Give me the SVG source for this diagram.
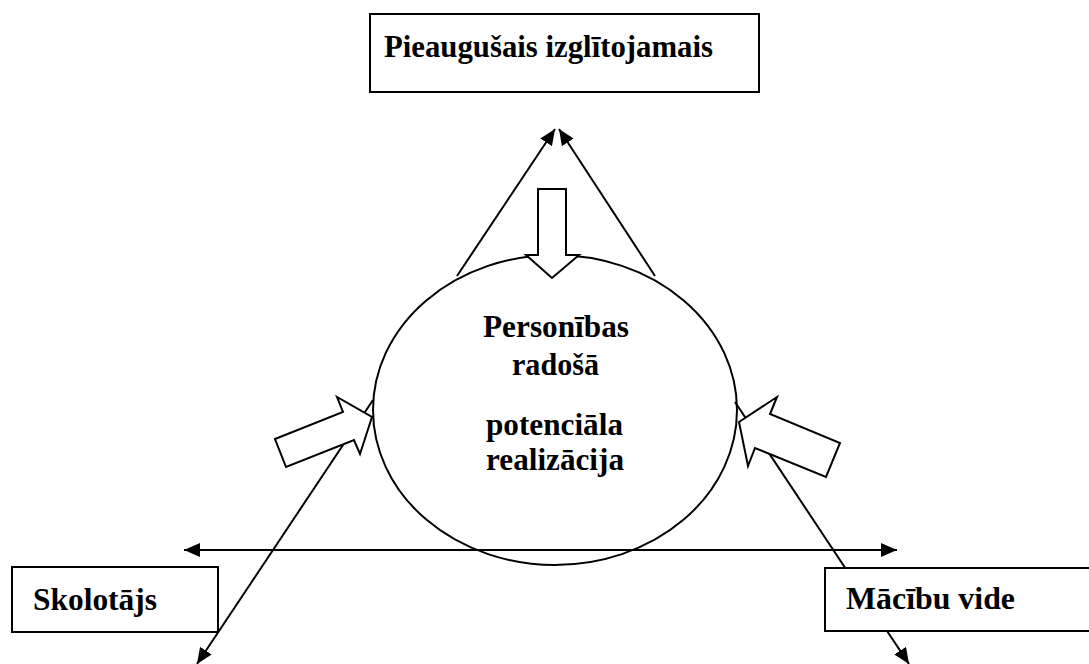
<svg xmlns="http://www.w3.org/2000/svg" width="1089" height="664" viewBox="0 0 1089 664">
<style>
.box{fill:#fff;stroke:#000;stroke-width:2}
.ell{fill:none;stroke:#000;stroke-width:2}
.lbl{font-family:"Times New Roman","Liberation Serif","DejaVu Serif",serif;font-weight:bold;font-size:31px;fill:#000}
.ln{stroke:#000;stroke-width:2;fill:none}
.blk{fill:#fff;stroke:#000;stroke-width:2;stroke-linejoin:miter}
</style>
<defs>
<marker id="ah" markerUnits="userSpaceOnUse" markerWidth="17" markerHeight="14" refX="16" refY="7" orient="auto">
<path d="M0,0 L16,7 L0,14 z" fill="#000"/>
</marker>
</defs>
<rect width="1089" height="664" fill="#fff"/>
<g id="connectors">
<line class="ln" x1="457" y1="276" x2="555" y2="129" marker-end="url(#ah)"/>
<line class="ln" x1="655" y1="276" x2="559" y2="129" marker-end="url(#ah)"/>
<line class="ln" x1="373" y1="400" x2="197" y2="664" marker-end="url(#ah)"/>
<line class="ln" x1="735" y1="402" x2="909" y2="664" marker-end="url(#ah)"/>
<line class="ln" x1="540" y1="550" x2="184" y2="550" marker-end="url(#ah)"/>
<line class="ln" x1="540" y1="550" x2="897" y2="550" marker-end="url(#ah)"/>
</g>
<g id="node-top">
<rect class="box" x="370" y="14" width="389" height="78"/>
<text class="lbl" x="384" y="57" textLength="329" lengthAdjust="spacingAndGlyphs">Pieaugušais izglītojamais</text>
</g>
<g id="node-skolotajs">
<rect class="box" x="12" y="567" width="206" height="65"/>
<text class="lbl" x="33" y="610" textLength="124" lengthAdjust="spacingAndGlyphs">Skolotājs</text>
</g>
<g id="node-macibu-vide">
<rect class="box" x="825" y="568" width="270" height="63"/>
<text class="lbl" x="846" y="609" textLength="169" lengthAdjust="spacingAndGlyphs">Mācību vide</text>
</g>
<g id="node-center">
<ellipse class="ell" cx="555" cy="410" rx="182" ry="155"/>
<text class="lbl" x="483" y="337" textLength="146" lengthAdjust="spacingAndGlyphs">Personības</text>
<text class="lbl" x="512" y="375" textLength="87" lengthAdjust="spacingAndGlyphs">radošā</text>
<text class="lbl" x="486" y="435" textLength="137" lengthAdjust="spacingAndGlyphs">potenciāla</text>
<text class="lbl" x="486" y="470" textLength="138" lengthAdjust="spacingAndGlyphs">realizācija</text>
</g>
<g id="block-arrows">
<polygon class="blk" points="538,189 566,189 566,255 579,255 552,278 526,255 538,255"/>
<polygon class="blk" points="275,439 343,412 337,397 372,417 360,454 354,440 286,467"/>
<polygon class="blk" points="739,422 777,397 770,414 840,443 826,477 755,448 748,466"/>
</g>
</svg>
